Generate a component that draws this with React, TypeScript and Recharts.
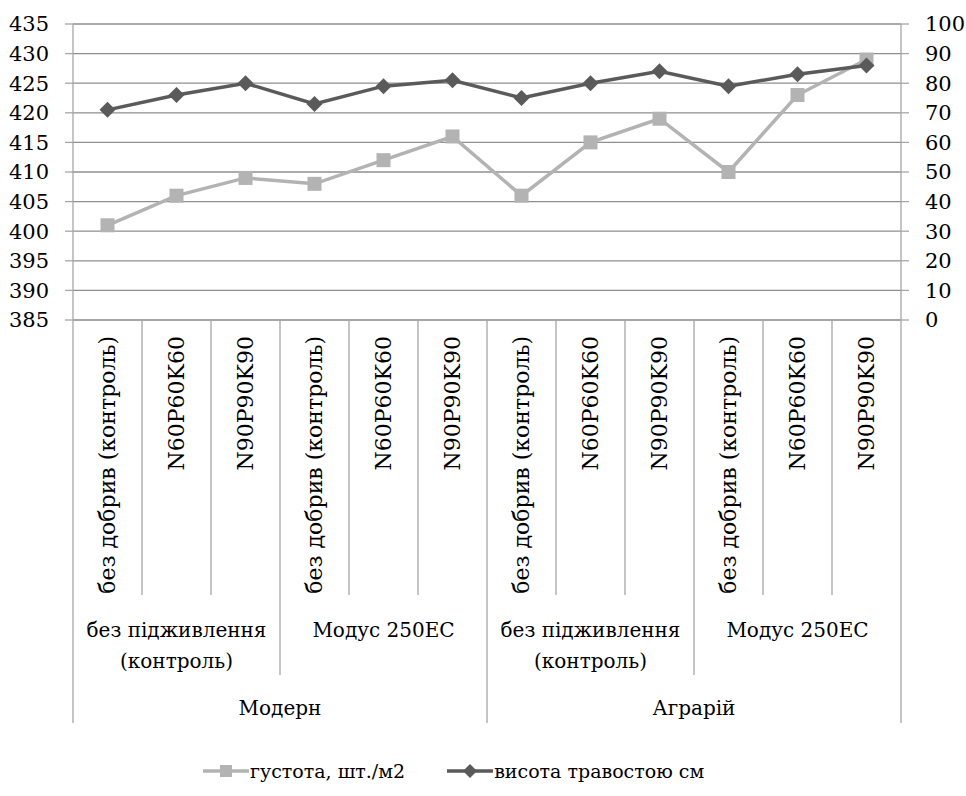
import { LineChart, Line, XAxis, YAxis, CartesianGrid, Legend } from "recharts";

const categories = [
  "без добрив (контроль)", "N60P60K60", "N90P90K90",
  "без добрив (контроль)", "N60P60K60", "N90P90K90",
  "без добрив (контроль)", "N60P60K60", "N90P90K90",
  "без добрив (контроль)", "N60P60K60", "N90P90K90",
];
const treatments = [
  ["без підживлення", "(контроль)"],
  ["Модус 250ЕС"],
  ["без підживлення", "(контроль)"],
  ["Модус 250ЕС"],
];
const varieties = ["Модерн", "Аграрій"];

const density = [401, 406, 409, 408, 412, 416, 406, 415, 419, 410, 423, 429];
const plantHeight = [71, 76, 80, 73, 79, 81, 75, 80, 84, 79, 83, 86];

const leftTicks = [385, 390, 395, 400, 405, 410, 415, 420, 425, 430, 435];
const rightTicks = [0, 10, 20, 30, 40, 50, 60, 70, 80, 90, 100];

const seriesNames = ["густота, шт./м2", "висота травостою см"];

const data = categories.map((c, i) => ({
  cat: c,
  density: density[i],
  height: plantHeight[i],
}));

const FONT = "DejaVu Serif, Liberation Serif, serif";
const LIGHT = "#b3b3b3";
const DARK = "#5a5a5a";
const GRID = "#8f8f8f";
const AXIS = "#a6a6a6";

const W = 966;
const H = 796;
const PLOT_LEFT = 73;
const PLOT_RIGHT = 901;
const PLOT_BOTTOM = 320;
const BAND = (PLOT_RIGHT - PLOT_LEFT) / categories.length;

function CategoryTick(props: any) {
  const { x, index } = props;
  const left = x - BAND / 2;
  const end = index % 6 === 0 ? 723 : index % 3 === 0 ? 675 : 595;
  const last = index === categories.length - 1;
  const t = treatments[Math.floor(index / 3)];
  return (
    <g>
      <line x1={left} y1={PLOT_BOTTOM} x2={left} y2={end} stroke={AXIS} strokeWidth={1.3} />
      {last && (
        <line x1={left + BAND} y1={PLOT_BOTTOM} x2={left + BAND} y2={723} stroke={AXIS} strokeWidth={1.3} />
      )}
      <text
        transform={`translate(${x}, 336) rotate(-90)`}
        textAnchor="end"
        dy="0.35em"
        fontSize={22}
        fontFamily={FONT}
        fill="#000"
      >
        {categories[index]}
      </text>
      {index % 3 === 0 &&
        t.map((line, k) => (
          <text
            key={k}
            x={left + BAND * 1.5}
            y={630 + k * 31}
            dy="0.35em"
            textAnchor="middle"
            fontSize={20}
            fontFamily={FONT}
            fill="#000"
          >
            {line}
          </text>
        ))}
      {index % 6 === 0 && (
        <text
          x={left + BAND * 3}
          y={708}
          dy="0.35em"
          textAnchor="middle"
          fontSize={20}
          fontFamily={FONT}
          fill="#000"
        >
          {varieties[index / 6]}
        </text>
      )}
    </g>
  );
}

function SquareDot(props: any) {
  const { cx, cy } = props;
  if (cx == null || cy == null) return null;
  return <rect x={cx - 7} y={cy - 7} width={14} height={14} fill={LIGHT} />;
}

function DiamondDot(props: any) {
  const { cx, cy } = props;
  if (cx == null || cy == null) return null;
  return (
    <polygon
      points={`${cx},${cy - 8} ${cx + 8},${cy} ${cx},${cy + 8} ${cx - 8},${cy}`}
      fill={DARK}
    />
  );
}

function LegendContent() {
  const item = (name: string, color: string, marker: "square" | "diamond") => (
    <div style={{ display: "flex", alignItems: "center" }}>
      <svg width={46} height={16}>
        <line x1={0} y1={8} x2={46} y2={8} stroke={color} strokeWidth={3.5} />
        {marker === "square" ? (
          <rect x={17} y={2} width={12} height={12} fill={color} />
        ) : (
          <polygon points="23,1 30,8 23,15 16,8" fill={color} />
        )}
      </svg>
      <span style={{ fontSize: 19, fontFamily: FONT, color: "#000", marginLeft: 1 }}>{name}</span>
    </div>
  );
  return (
    <div style={{ display: "flex", alignItems: "center", height: 30, paddingLeft: 190, gap: 42 }}>
      {item(seriesNames[0], LIGHT, "square")}
      {item(seriesNames[1], DARK, "diamond")}
    </div>
  );
}

export default function App() {
  return (
    <div style={{ position: "absolute", left: 0, top: 0, width: W, height: H, background: "#fff", fontFamily: FONT }}>
      <LineChart
        width={W}
        height={H}
        data={data}
        margin={{ top: 24, left: 13, right: 15, bottom: 42 }}
      >
        <CartesianGrid yAxisId="left" vertical={false} stroke={GRID} strokeWidth={1.3} />
        <XAxis
          dataKey="cat"
          interval={0}
          height={404}
          padding={{ left: BAND / 2, right: BAND / 2 }}
          tickLine={false}
          axisLine={{ stroke: AXIS, strokeWidth: 1.3 }}
          tick={<CategoryTick />}
          allowDuplicatedCategory
        />
        <YAxis
          yAxisId="left"
          domain={[385, 435]}
          ticks={leftTicks}
          interval={0}
          width={60}
          tickSize={8}
          tickMargin={16}
          tickLine={{ stroke: AXIS, strokeWidth: 1.3 }}
          axisLine={{ stroke: AXIS, strokeWidth: 1.3 }}
          tick={{ fill: "#000", fontSize: 21, fontFamily: FONT }}
        />
        <YAxis
          yAxisId="right"
          orientation="right"
          domain={[0, 100]}
          ticks={rightTicks}
          interval={0}
          width={50}
          tickSize={8}
          tickMargin={16}
          tickLine={{ stroke: AXIS, strokeWidth: 1.3 }}
          axisLine={{ stroke: AXIS, strokeWidth: 1.3 }}
          tick={{ fill: "#000", fontSize: 21, fontFamily: FONT, textAnchor: "start" }}
        />
        <Legend
          verticalAlign="bottom"
          content={<LegendContent />}
          wrapperStyle={{ top: 756, left: 13, height: 30 }}
        />
        <Line
          yAxisId="left"
          dataKey="density"
          name={seriesNames[0]}
          stroke={LIGHT}
          strokeWidth={3.5}
          dot={<SquareDot />}
          activeDot={false}
          isAnimationActive={false}
        />
        <Line
          yAxisId="right"
          dataKey="height"
          name={seriesNames[1]}
          stroke={DARK}
          strokeWidth={3.5}
          dot={<DiamondDot />}
          activeDot={false}
          isAnimationActive={false}
        />
      </LineChart>
    </div>
  );
}
